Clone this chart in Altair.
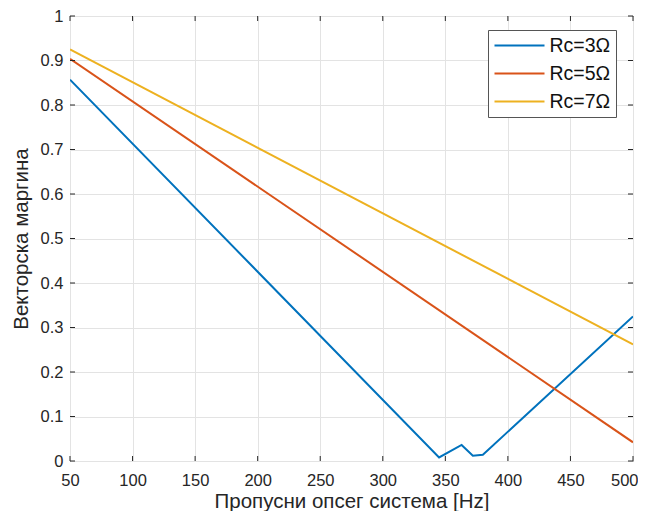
import altair as alt
import pandas as pd

# ---- data ----
series_names = ["Rc=3Ω", "Rc=5Ω", "Rc=7Ω"]
rc3_x = [50, 345, 363, 372, 380, 500]
rc3_y = [0.857, 0.008, 0.036, 0.012, 0.014, 0.325]
rc5_x = [50, 500]
rc5_y = [0.904, 0.042]
rc7_x = [50, 500]
rc7_y = [0.925, 0.262]
x_ticks = [50, 100, 150, 200, 250, 300, 350, 400, 450, 500]
y_ticks = [0, 0.1, 0.2, 0.3, 0.4, 0.5, 0.6, 0.7, 0.8, 0.9, 1]
colors = ["#0072BD", "#D95319", "#EDB120"]

rows = []
for name, xs, ys in zip(series_names, [rc3_x, rc5_x, rc7_x], [rc3_y, rc5_y, rc7_y]):
    for i, (a, b) in enumerate(zip(xs, ys)):
        rows.append({"x": a, "y": b, "s": name, "o": i})
df = pd.DataFrame(rows)
dfx = pd.DataFrame({"x": x_ticks})
dfy = pd.DataFrame({"y": y_ticks})

W, H = 563, 445
FONT = "Liberation Sans"
TXT = "#262626"

xscale = alt.Scale(domain=[50, 500], nice=False, zero=False)
yscale = alt.Scale(domain=[0, 1], nice=False, zero=False)

lines = alt.Chart(df).mark_line(strokeWidth=2, clip=True).encode(
    x=alt.X("x:Q", scale=xscale,
            axis=alt.Axis(values=x_ticks, title="Пропусни опсег система [Hz]", format="d",
                          labelAlign={"condition": {"test": "datum.value == 500", "value": "right"},
                                      "value": "center"},
                          labelOffset={"condition": {"test": "datum.value == 500", "value": 5},
                                       "value": 0})),
    y=alt.Y("y:Q", scale=yscale,
            axis=alt.Axis(values=y_ticks, title="Векторска маргина", format=".1~f")),
    color=alt.Color("s:N", scale=alt.Scale(domain=series_names, range=colors),
                    legend=alt.Legend(title=None)),
    order="o:Q",
)

tk = 5
xt_bottom = alt.Chart(dfx).mark_rule(color=TXT, strokeWidth=1).encode(
    x=alt.X("x:Q", scale=xscale), y=alt.value(H), y2=alt.value(H - tk))
xt_top = alt.Chart(dfx).mark_rule(color=TXT, strokeWidth=1).encode(
    x=alt.X("x:Q", scale=xscale), y=alt.value(0), y2=alt.value(tk))
yt_left = alt.Chart(dfy).mark_rule(color=TXT, strokeWidth=1).encode(
    y=alt.Y("y:Q", scale=yscale), x=alt.value(0), x2=alt.value(tk))
yt_right = alt.Chart(dfy).mark_rule(color=TXT, strokeWidth=1).encode(
    y=alt.Y("y:Q", scale=yscale), x=alt.value(W), x2=alt.value(W - tk))

chart = alt.layer(lines, xt_bottom, xt_top, yt_left, yt_right).properties(
    width=W, height=H,
    autosize=alt.AutoSizeParams(type="none"),
    padding={"left": 62, "top": 8, "right": 5, "bottom": 50},
).configure_view(
    stroke=TXT, strokeWidth=1
).configure_axis(
    domain=False, grid=True, gridColor="#e3e3e3", gridWidth=1,
    tickSize=0, labelFont=FONT, labelFontSize=16.5, labelColor=TXT,
    labelFlush=False, labelOverlap=False,
    titleFont=FONT, titleFontSize=20.5, titleColor=TXT,
    titleFontWeight="normal",
).configure_axisY(
    titlePadding=9, labelPadding=7
).configure_axisX(
    titlePadding=3, labelPadding=11
).configure_legend(
    orient="none", legendX=418, legendY=14,
    strokeColor="#555555", fillColor="white", padding=5.5,
    symbolType="stroke", symbolSize=2500, symbolStrokeWidth=2,
    clipHeight=20,
    labelFont=FONT, labelFontSize=19.5, labelColor="#111111",
    rowPadding=8, labelOffset=4, symbolOffset=0,
)

chart.save("out.html", embed_options={"renderer": "svg", "actions": False})
